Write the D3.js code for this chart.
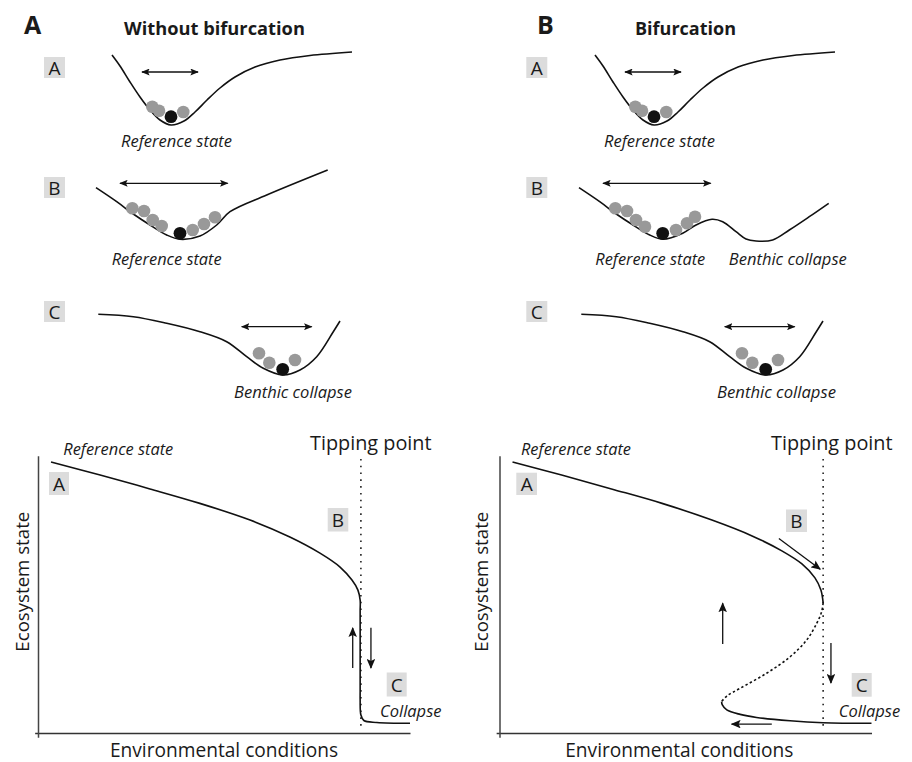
<!DOCTYPE html>
<html>
<head>
<meta charset="utf-8">
<script src="https://cdn.jsdelivr.net/npm/d3@7"></script>
<style>
  body { margin: 0; background: #fff; }
  svg { display: block; }
  text { font-family: "Open Sans", sans-serif; fill: #1a1a1a; }
</style>
</head>
<body>
<script>
// ---------- Stability landscapes (state position, potential) ----------
const wellReference = [[2.2,7.1],[3.0,6.0],[4.0,4.4],[5.0,2.9],[6.0,1.6],[7.0,0.6],[8.1,0.1],[9.4,0.5],[10.5,1.4],[11.7,2.6],[13.0,3.8],[14.5,4.9],[16.5,5.9],[19.0,6.6],[22.0,7.05],[26.2,7.4]];
const wellWide = [[0.6,5.33],[2.67,3.93],[4.33,2.7],[6.0,1.6],[7.67,0.6],[9.0,0.17],[11.0,0.5],[12.67,1.6],[14.0,2.93],[17.67,4.6],[23.77,7.1]];
const wellDouble = [[0.6,5.33],[2.67,3.93],[4.33,2.7],[6.0,1.6],[7.67,0.6],[9.0,0.17],[10.97,0.77],[12.3,1.6],[13.9,2.17],[14.97,1.93],[16.3,0.93],[17.3,0.2],[18.3,0.0],[19.97,0.1],[21.63,1.1],[23.63,2.43],[25.57,3.77]];
const wellCollapse = [[0.83,6.27],[4.33,6.03],[7.67,5.37],[11.0,4.53],[13.67,3.53],[15.67,2.03],[17.33,0.87],[19.27,0.2],[21.0,0.7],[22.67,2.03],[24.33,4.53],[25.0,5.6]];

// ball positions: perturbed states (grey) and current state (black)
const ballsReferenceGrey = [[6.23,1.93],[6.9,1.53],[9.33,1.4]];
const ballsReferenceBlack = [8.1,0.93];
const ballsWideGrey = [[4.23,3.27],[5.4,3.0],[6.27,2.1],[7.17,1.5],[10.27,1.1],[11.4,1.7],[12.5,2.37]];
const ballsWideBlack = [9.0,0.77];
const ballsDoubleGrey = [[4.23,3.27],[5.4,3.0],[6.3,2.1],[7.2,1.43],[10.3,1.1],[11.4,1.77],[12.2,2.43]];
const ballsDoubleBlack = [8.97,0.77];
const ballsCollapseGrey = [[16.9,2.37],[17.93,1.43],[20.5,1.7]];
const ballsCollapseBlack = [19.27,0.77];

// range of fluctuation [from, to, level]
const rangeReference = [5.2, 10.8, 5.4];
const rangeWide = [3.0, 13.77, 5.77];
const rangeCollapse = [15.17, 22.17, 5.03];

// ---------- Ecosystem state vs environmental conditions ----------
const stateGradual = [[0.35,9.75],[1.67,9.28],[3.01,8.78],[4.35,8.26],[5.70,7.66],[6.77,7.05],[7.58,6.47],[8.12,5.97],[8.44,5.50],[8.60,5.14],[8.66,4.78],[8.66,4.4],[8.66,1.5],[8.66,1.19],[8.68,0.65],[8.76,0.45],[9.11,0.38],[10.0,0.35]];
const stableUpper = [[0.35,9.75],[1.67,9.28],[3.01,8.78],[4.37,8.26],[5.71,7.66],[6.79,7.09],[7.59,6.55],[8.13,6.08],[8.48,5.58],[8.64,5.14],[8.70,4.68]];
const unstableMiddle = [[8.70,4.68],[8.66,4.36],[8.53,3.95],[8.26,3.35],[7.81,2.74],[7.18,2.15],[6.47,1.61],[6.11,1.33],[5.97,1.13]];
const stableLower = [[5.97,1.13],[5.99,1.01],[6.11,0.83],[6.47,0.67],[6.91,0.56],[7.81,0.44],[8.70,0.37],[10.0,0.35]];
const tippingGradual = 8.68;
const tippingFold = 8.70;
const arrowsGradual = [[[8.46,2.34],[8.46,3.78]], [[8.95,3.79],[8.95,2.34]]];
const arrowsFold = [[[7.51,7.0],[8.62,5.89]], [[6.0,3.2],[6.0,4.67]], [[8.91,3.24],[8.91,1.80]], [[7.32,0.32],[6.24,0.32]]];

// ---------- Text ----------
const panelLetters = ["A", "B"];
const panelTitles = ["Without bifurcation", "Bifurcation"];
const stageLetters = ["A", "B", "C"];
const axisTitleX = "Environmental conditions";
const axisTitleY = "Ecosystem state";

// ---------- Drawing ----------
const svg = d3.select("body").append("svg").attr("width", 912).attr("height", 762);
const defs = svg.append("defs");

function addHead(id, w, h, d) {
  defs.append("marker").attr("id", id)
    .attr("viewBox", "0 -5 10 10").attr("refX", 9).attr("refY", 0)
    .attr("markerUnits", "userSpaceOnUse")
    .attr("markerWidth", w).attr("markerHeight", h)
    .attr("preserveAspectRatio", "none")
    .attr("orient", "auto-start-reverse")
    .append("path").attr("d", d).attr("fill", "#111");
}
addHead("headSmall", 8.5, 7, "M0,-5L10,0L0,5L2,0Z");
addHead("headBig", 10, 8.5, "M0,-5L10,0L0,5L2,0Z");

function fitText(t, w) {
  const m = t.node().getComputedTextLength();
  if (m > 0) t.attr("font-size", (+t.attr("font-size")) * w / m);
  return t;
}

function stageBox(g, x, y, w, h, letter) {
  g.append("rect").attr("x", x).attr("y", y).attr("width", w).attr("height", h).attr("fill", "#dcdcdc");
  g.append("text").attr("x", x + w / 2).attr("y", y + h / 2 + 7)
    .attr("text-anchor", "middle").attr("font-size", 19).text(letter);
}

// headings
const headLayout = [{lx: 24, tx: 124, tw: 181}, {lx: 537, tx: 635, tw: 101}];
headLayout.forEach((h, i) => {
  svg.append("text").attr("x", h.lx).attr("y", 34).attr("font-size", 25)
    .attr("font-weight", 700).text(panelLetters[i]);
  fitText(svg.append("text").attr("x", h.tx).attr("y", 35).attr("font-size", 17)
    .attr("font-weight", 700).text(panelTitles[i]), h.tw);
});

// landscapes
const rowBase = [126, 241, 377];
const potScale = base => d3.scaleLinear().domain([0, 9]).range([base, base - 90]);
const columns = [
  {x: d3.scaleLinear().domain([0, 27]).range([90, 360]), box: 44,
   rows: [
     {well: wellReference, grey: ballsReferenceGrey, black: ballsReferenceBlack, range: rangeReference,
      labels: [{t: "Reference state", cx: 176.5, w: 111}]},
     {well: wellWide, grey: ballsWideGrey, black: ballsWideBlack, range: rangeWide,
      labels: [{t: "Reference state", cx: 166.7, w: 110}]},
     {well: wellCollapse, grey: ballsCollapseGrey, black: ballsCollapseBlack, range: rangeCollapse,
      labels: [{t: "Benthic collapse", cx: 293, w: 118}]}
   ]},
  {x: d3.scaleLinear().domain([0, 27]).range([573, 843]), box: 526.3,
   rows: [
     {well: wellReference, grey: ballsReferenceGrey, black: ballsReferenceBlack, range: rangeReference,
      labels: [{t: "Reference state", cx: 659.5, w: 111}]},
     {well: wellDouble, grey: ballsDoubleGrey, black: ballsDoubleBlack, range: rangeWide,
      labels: [{t: "Reference state", cx: 650.3, w: 110}, {t: "Benthic collapse", cx: 787.8, w: 118}]},
     {well: wellCollapse, grey: ballsCollapseGrey, black: ballsCollapseBlack, range: rangeCollapse,
      labels: [{t: "Benthic collapse", cx: 776.5, w: 119}]}
   ]}
];
const boxTops = [57, 177, 301];
const labelBaselines = [147, 265, 398];

columns.forEach(col => {
  col.rows.forEach((row, r) => {
    const g = svg.append("g");
    const y = potScale(rowBase[r]);
    const line = d3.line().x(d => col.x(d[0])).y(d => y(d[1])).curve(d3.curveCatmullRom.alpha(0.5));
    stageBox(g, col.box, boxTops[r], 21, 21, stageLetters[r]);
    g.append("path").datum(row.well).attr("d", line)
      .attr("fill", "none").attr("stroke", "#111").attr("stroke-width", 1.6);
    g.append("line")
      .attr("x1", col.x(row.range[0])).attr("x2", col.x(row.range[1]))
      .attr("y1", y(row.range[2])).attr("y2", y(row.range[2]))
      .attr("stroke", "#111").attr("stroke-width", 1.3)
      .attr("marker-start", "url(#headSmall)").attr("marker-end", "url(#headSmall)");
    g.selectAll("circle.grey").data(row.grey).join("circle").attr("class", "grey")
      .attr("cx", d => col.x(d[0])).attr("cy", d => y(d[1])).attr("r", 6.3).attr("fill", "#999");
    g.append("circle").attr("cx", col.x(row.black[0])).attr("cy", y(row.black[1]))
      .attr("r", 6.4).attr("fill", "#111");
    row.labels.forEach(l => {
      fitText(g.append("text").attr("x", l.cx).attr("y", labelBaselines[r])
        .attr("text-anchor", "middle").attr("font-style", "italic").attr("font-size", 15).text(l.t), l.w);
    });
  });
});

// bifurcation diagrams
const charts = [
  {x0: 38, yLabelX: 29, series: [{d: stateGradual, dash: null}], tip: tippingGradual, arrows: arrowsGradual,
   boxes: [[49, 472, 20, 23], [327.7, 508, 20.6, 23.5], [386.7, 672.5, 20, 24]],
   refX: 63.3, collapseX: 380, tipCx: 370.8, xTitleCx: 224},
  {x0: 499.5, yLabelX: 488, series: [{d: stableUpper, dash: null}, {d: unstableMiddle, dash: "2.4,2.4"}, {d: stableLower, dash: null}],
   tip: tippingFold, arrows: arrowsFold,
   boxes: [[516.3, 472.7, 20.7, 22.3], [786, 509.5, 21, 22.5], [851.7, 673, 20, 23.7]],
   refX: 521, collapseX: 838.7, tipCx: 831.8, xTitleCx: 679.3}
];

charts.forEach(c => {
  const g = svg.append("g");
  const x = d3.scaleLinear().domain([0, 10]).range([c.x0, c.x0 + 372]);
  const y = d3.scaleLinear().domain([0, 10]).range([733, 455]);

  // axes without ticks, the horizontal one slightly overshooting the vertical one
  const xAxisScale = d3.scaleLinear().domain([-0.09, 10]).range([x(-0.09), x(10)]);
  const yAxisScale = d3.scaleLinear().domain([-0.15, 9.97]).range([y(-0.15), y(9.97)]);
  g.append("g").attr("transform", `translate(0,${y(0)})`)
    .call(d3.axisBottom(xAxisScale).tickValues([]).tickSizeOuter(0))
    .call(a => a.select(".domain").attr("stroke", "#333").attr("stroke-width", 1.6));
  g.append("g").attr("transform", `translate(${x(0)},0)`)
    .call(d3.axisLeft(yAxisScale).tickValues([]).tickSizeOuter(0))
    .call(a => a.select(".domain").attr("stroke", "#444").attr("stroke-width", 1.5));

  c.boxes.forEach((b, i) => stageBox(g, b[0], b[1], b[2], b[3], stageLetters[i]));

  // tipping point
  g.append("line").attr("x1", x(c.tip)).attr("x2", x(c.tip)).attr("y1", y(9.86)).attr("y2", y(0.22))
    .attr("stroke", "#222").attr("stroke-width", 1.6).attr("stroke-dasharray", "1.6,5.2");

  const line = d3.line().x(d => x(d[0])).y(d => y(d[1])).curve(d3.curveCatmullRom.alpha(0.5));
  c.series.forEach(s => {
    g.append("path").datum(s.d).attr("d", line).attr("fill", "none")
      .attr("stroke", "#111").attr("stroke-width", 1.6)
      .attr("stroke-dasharray", s.dash);
  });

  c.arrows.forEach(a => {
    g.append("line").attr("x1", x(a[0][0])).attr("y1", y(a[0][1]))
      .attr("x2", x(a[1][0])).attr("y2", y(a[1][1]))
      .attr("stroke", "#111").attr("stroke-width", 1.3).attr("marker-end", "url(#headBig)");
  });

  fitText(g.append("text").attr("x", c.tipCx).attr("y", 450).attr("text-anchor", "middle")
    .attr("font-size", 17).text("Tipping point"), 121.7);
  fitText(g.append("text").attr("x", c.refX).attr("y", 455).attr("font-style", "italic")
    .attr("font-size", 14).text("Reference state"), 110);
  fitText(g.append("text").attr("x", c.collapseX).attr("y", 717).attr("font-style", "italic")
    .attr("font-size", 14).text("Collapse"), 61.5);
  fitText(g.append("text").attr("transform", `translate(${c.yLabelX},581.7) rotate(-90)`)
    .attr("text-anchor", "middle").attr("font-size", 17).text(axisTitleY), 140);
  fitText(g.append("text").attr("x", c.xTitleCx).attr("y", 756.5).attr("text-anchor", "middle")
    .attr("font-size", 17).text(axisTitleX), 228.3);
});
</script>
</body>
</html>
